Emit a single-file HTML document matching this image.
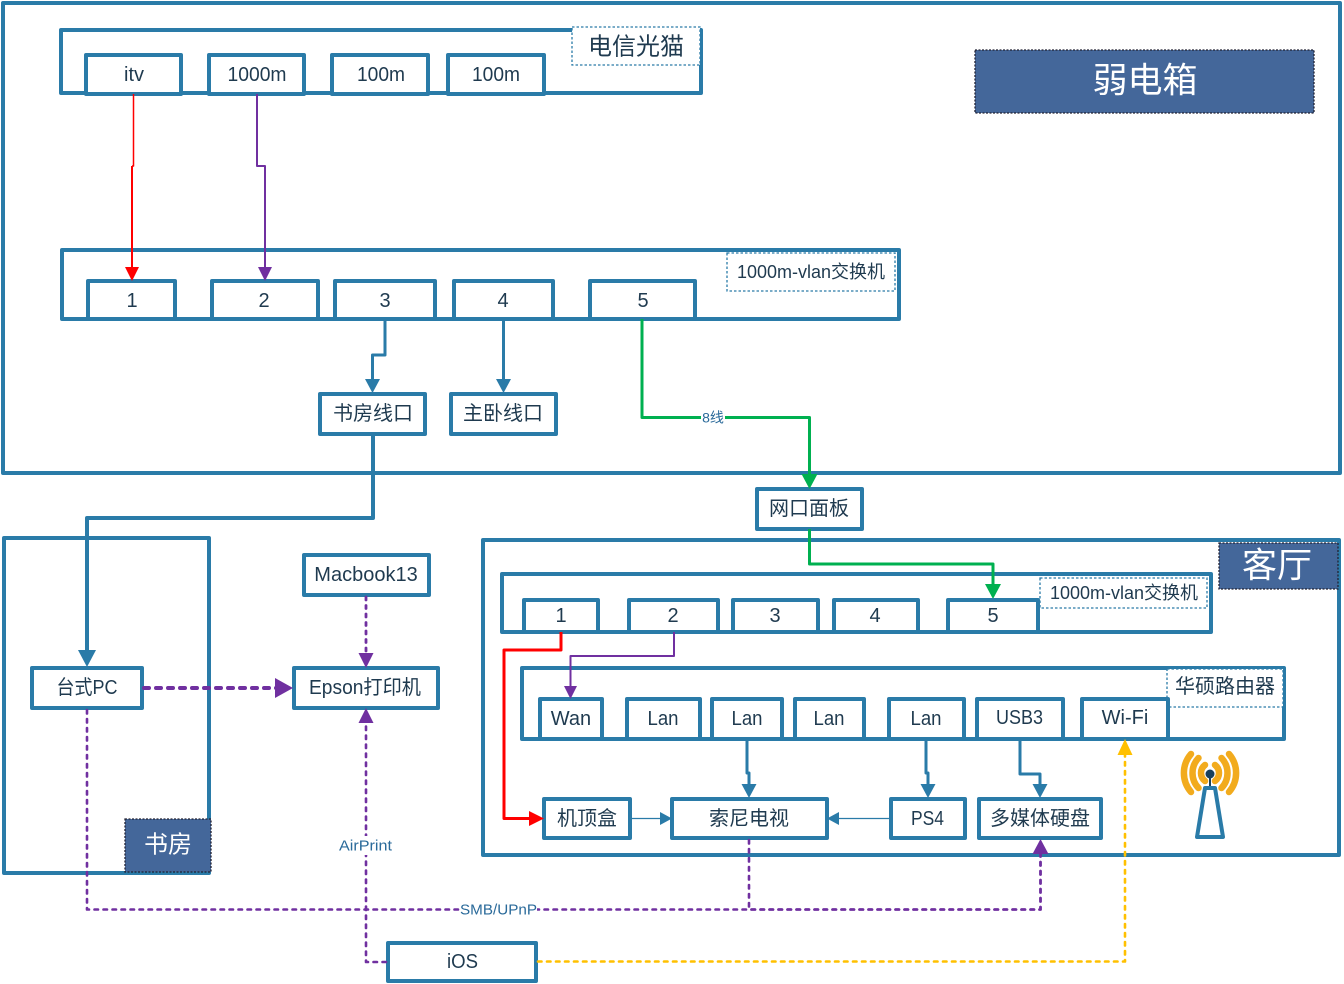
<!DOCTYPE html>
<html><head><meta charset="utf-8"><style>
html,body{margin:0;padding:0;background:#fff;width:1344px;height:984px;overflow:hidden}
svg{display:block}
text{font-family:"Liberation Sans","Noto Sans CJK SC",sans-serif;text-anchor:middle;dominant-baseline:central;fill:#1f3a4f;font-size:20px;transform:translateY(2px)}
.b{fill:none;stroke:#2a7ba8;stroke-width:4;stroke-linejoin:round}
.p{fill:#fff;stroke:#2a7ba8;stroke-width:4;stroke-linejoin:round}
.l{fill:#fff;stroke:#2a7ba8;stroke-width:1.3;stroke-dasharray:2.5 2}
.t{fill:#44679a;stroke:#223;stroke-width:1.3;stroke-dasharray:2 1.5}
.c{fill:none;stroke-linejoin:round}
.d{stroke-linecap:round}
.w{fill:#fff}
</style></head><body>
<svg width="1344" height="984" viewBox="0 0 1344 984" xmlns="http://www.w3.org/2000/svg">
<!-- containers -->
<rect class="b" x="3" y="3" width="1337" height="470"/>
<rect class="b" x="61" y="30" width="640" height="63"/>
<rect class="b" x="62" y="250" width="837" height="69"/>
<rect class="b" x="4" y="538" width="205" height="335"/>
<rect class="b" x="483" y="540" width="856" height="315"/>
<rect class="b" x="502" y="574" width="709" height="58"/>
<rect class="b" x="522" y="668" width="762" height="71"/>

<!-- modem -->
<rect class="l" x="572" y="27" width="128" height="38"/>
<text x="636" y="45" style="font-size:24px">电信光猫</text>
<rect class="p" x="86" y="55" width="95" height="39"/><text x="134" y="73">itv</text>
<rect class="p" x="209" y="55" width="95" height="39"/><text x="257" y="73" textLength="59" lengthAdjust="spacingAndGlyphs">1000m</text>
<rect class="p" x="332" y="55" width="96" height="39"/><text x="381" y="73" textLength="48" lengthAdjust="spacingAndGlyphs">100m</text>
<rect class="p" x="448" y="55" width="96" height="39"/><text x="496" y="73" textLength="48" lengthAdjust="spacingAndGlyphs">100m</text>

<!-- switch 1 -->
<rect class="l" x="727" y="253" width="168" height="38"/>
<text x="811" y="270" style="font-size:18px">1000m-vlan交换机</text>
<rect class="p" x="88" y="281" width="87" height="38"/><text x="132" y="299">1</text>
<rect class="p" x="212" y="281" width="106" height="38"/><text x="264" y="299">2</text>
<rect class="p" x="335" y="281" width="100" height="38"/><text x="385" y="299">3</text>
<rect class="p" x="454" y="281" width="99" height="38"/><text x="503" y="299">4</text>
<rect class="p" x="590" y="281" width="105" height="38"/><text x="643" y="299">5</text>

<!-- title -->
<rect class="t" x="975" y="50" width="339" height="63"/>
<text x="1145" y="79" style="font-size:35px;fill:#fff">弱电箱</text>

<!-- mid nodes -->
<rect class="p" x="320" y="394" width="105" height="40"/><text x="373" y="412">书房线口</text>
<rect class="p" x="451" y="394" width="105" height="40"/><text x="503" y="412">主卧线口</text>
<rect class="p" x="757" y="489" width="105" height="40"/><text x="809" y="507">网口面板</text>

<!-- connectors top -->
<path class="c" stroke="#ff0000" stroke-width="1.5" d="M133.500 94V166H132"/>
<path class="c" stroke="#ff0000" stroke-width="2" d="M132 166V268"/>
<polygon fill="#ff0000" points="125,267 139,267 132,281"/>
<path class="c" stroke="#7030a0" stroke-width="2" d="M257 94V166H265V268"/>
<polygon fill="#7030a0" points="258,267 272,267 265,281"/>
<path class="c" stroke="#2a7ba8" stroke-width="3" d="M385 319V355H372.500V381"/>
<polygon fill="#2a7ba8" points="365,379 380,379 372.500,393"/>
<path class="c" stroke="#2a7ba8" stroke-width="3" d="M503.500 319V381"/>
<polygon fill="#2a7ba8" points="496,379 511,379 503.500,393"/>
<path class="c" stroke="#00b050" stroke-width="3" d="M642 319V417.500H809.500V475"/>
<polygon fill="#00b050" points="801.500,474 817.500,474 809.500,489"/>
<rect class="w" x="701" y="408" width="24" height="18"/>
<text x="713" y="415.500" style="font-size:14px;fill:#2a6a9a">8线</text>
<path class="c" stroke="#2a7ba8" stroke-width="4" d="M373 434V518H87V655"/>
<polygon fill="#2a7ba8" points="78,650 96,650 87,667"/>
<path class="c" stroke="#00b050" stroke-width="3" d="M809.500 529V564H993V587"/>
<polygon fill="#00b050" points="985,584 1001,584 993,599"/>

<!-- study -->
<rect class="t" x="125" y="819" width="86" height="53"/>
<text x="168" y="843" style="font-size:24px;fill:#fff">书房</text>
<rect class="p" x="32" y="668" width="110" height="40"/><text x="87" y="686" textLength="61" lengthAdjust="spacingAndGlyphs">台式PC</text>

<!-- living room -->
<rect class="t" x="1219" y="543" width="119" height="46"/>
<text x="1277" y="564" style="font-size:35px;fill:#fff">客厅</text>
<rect class="l" x="1040" y="578" width="167" height="30"/>
<text x="1124" y="591" style="font-size:18px">1000m-vlan交换机</text>
<rect class="p" x="524" y="600" width="74" height="32"/><text x="561" y="614">1</text>
<rect class="p" x="629" y="600" width="89" height="32"/><text x="673" y="614">2</text>
<rect class="p" x="733" y="600" width="85" height="32"/><text x="775" y="614">3</text>
<rect class="p" x="834" y="600" width="84" height="32"/><text x="875" y="614">4</text>
<rect class="p" x="948" y="600" width="90" height="32"/><text x="993" y="614">5</text>

<rect class="l" x="1167" y="669" width="116" height="38"/>
<text x="1225" y="685">华硕路由器</text>
<rect class="p" x="540" y="699" width="62" height="40"/><text x="571" y="717">Wan</text>
<rect class="p" x="627" y="699" width="73" height="40"/><text x="663" y="717" textLength="31" lengthAdjust="spacingAndGlyphs">Lan</text>
<rect class="p" x="712" y="699" width="70" height="40"/><text x="747" y="717" textLength="31" lengthAdjust="spacingAndGlyphs">Lan</text>
<rect class="p" x="795" y="699" width="69" height="40"/><text x="829" y="717" textLength="31" lengthAdjust="spacingAndGlyphs">Lan</text>
<rect class="p" x="889" y="699" width="75" height="40"/><text x="926" y="717" textLength="31" lengthAdjust="spacingAndGlyphs">Lan</text>
<rect class="p" x="977" y="699" width="86" height="40"/><text x="1019.500" y="716" textLength="47" lengthAdjust="spacingAndGlyphs">USB3</text>
<rect class="p" x="1082" y="699" width="86" height="40"/><text x="1125" y="716">Wi-Fi</text>

<rect class="p" x="544" y="799" width="86" height="39"/><text x="587" y="817">机顶盒</text>
<rect class="p" x="672" y="799" width="155" height="39"/><text x="749" y="817">索尼电视</text>
<rect class="p" x="891" y="799" width="74" height="39"/><text x="927.500" y="817" textLength="33" lengthAdjust="spacingAndGlyphs">PS4</text>
<rect class="p" x="979" y="799" width="122" height="39"/><text x="1040" y="817">多媒体硬盘</text>

<!-- living connectors -->
<path class="c" stroke="#ff0000" stroke-width="3" d="M561 632V650H504V818.500H530"/>
<polygon fill="#ff0000" points="529,811 529,826 544,818.500"/>
<path class="c" stroke="#7030a0" stroke-width="2" d="M674 632V656H570.500V688"/>
<polygon fill="#7030a0" points="564,686 577,686 570.500,699"/>
<path class="c" stroke="#2a7ba8" stroke-width="3" d="M747 739V773H749V785"/>
<polygon fill="#2a7ba8" points="741.500,784 756.500,784 749,798"/>
<path class="c" stroke="#2a7ba8" stroke-width="3" d="M926 739V773H928V785"/>
<polygon fill="#2a7ba8" points="920.500,784 935.500,784 928,798"/>
<path class="c" stroke="#2a7ba8" stroke-width="3" d="M1020 739V774H1040V785"/>
<polygon fill="#2a7ba8" points="1032.500,784 1047.500,784 1040,798"/>
<path class="c" stroke="#2a7ba8" stroke-width="1.300" d="M630 818.500H662"/>
<polygon fill="#2a7ba8" points="660,812 660,825 672,818.500"/>
<path class="c" stroke="#2a7ba8" stroke-width="1.300" d="M891 818.500H838"/>
<polygon fill="#2a7ba8" points="839,812 839,825 827,818.500"/>

<!-- wifi icon -->
<g fill="none" stroke="#f2ab1d" stroke-linecap="round" stroke-width="6.500">
<path d="M1205 765a10 10 0 0 0 0 16"/>
<path d="M1215 765a10 10 0 0 1 0 16"/>
<path d="M1198.500 758a21.750 21.750 0 0 0 0 30"/>
<path d="M1221.500 758a21.750 21.750 0 0 1 0 30"/>
<path d="M1191 754a29 29 0 0 0 0 38"/>
<path d="M1229 754a29 29 0 0 1 0 38"/>
</g>
<line x1="1210" y1="776" x2="1210" y2="788" stroke="#17405c" stroke-width="2"/>
<circle cx="1210" cy="774" r="4.500" fill="#17405c"/>
<polygon points="1205,788 1215,788 1223,837 1197,837" fill="#fff" stroke="#2a7ba8" stroke-width="4" stroke-linejoin="round"/>

<!-- Macbook, Epson, iOS -->
<rect class="p" x="304" y="555" width="125" height="40"/><text x="366" y="573">Macbook13</text>
<rect class="p" x="294" y="668" width="144" height="40"/><text x="365" y="686" textLength="112" lengthAdjust="spacingAndGlyphs">Epson打印机</text>
<rect class="p" x="388" y="943" width="148" height="38"/><text x="462.500" y="960" textLength="31" lengthAdjust="spacingAndGlyphs">iOS</text>

<!-- dashed -->
<path class="c d" stroke="#7030a0" stroke-width="2.800" stroke-dasharray="3 5.500" d="M366 597V655"/>
<polygon fill="#7030a0" points="358.500,653 373.500,653 366,668"/>
<path class="c d" stroke="#7030a0" stroke-width="4" stroke-dasharray="5 7" d="M144 688H278"/>
<polygon fill="#7030a0" points="275,678 275,698 293,688"/>
<path class="c d" stroke="#7030a0" stroke-width="2.600" stroke-dasharray="3.500 5.500" d="M87 710V909.500H1040.500V852"/>
<path class="c d" stroke="#7030a0" stroke-width="2.600" stroke-dasharray="3.500 5.500" d="M749 840V909.500H1040.500V852"/>
<polygon fill="#7030a0" points="1032.500,854 1048.500,854 1040.500,839"/>
<path class="c d" stroke="#7030a0" stroke-width="2.600" stroke-dasharray="3.500 5.500" d="M386 962H366V722"/>
<polygon fill="#7030a0" points="358.500,723 373.500,723 366,708"/>
<path class="c d" stroke="#ffc000" stroke-width="2.600" stroke-dasharray="3.500 5.500" d="M538 961.500H1125V754"/>
<polygon fill="#ffc000" points="1117.500,755 1132.500,755 1125,739"/>

<rect class="w" x="338" y="836" width="55" height="19"/>
<text x="365.500" y="844" style="font-size:15px;fill:#2a6a9a" textLength="53" lengthAdjust="spacingAndGlyphs">AirPrint</text>
<rect class="w" x="460" y="900" width="77" height="19"/>
<text x="498.500" y="908" style="font-size:15px;fill:#2a6a9a" textLength="77" lengthAdjust="spacingAndGlyphs">SMB/UPnP</text>
</svg>
</body></html>
